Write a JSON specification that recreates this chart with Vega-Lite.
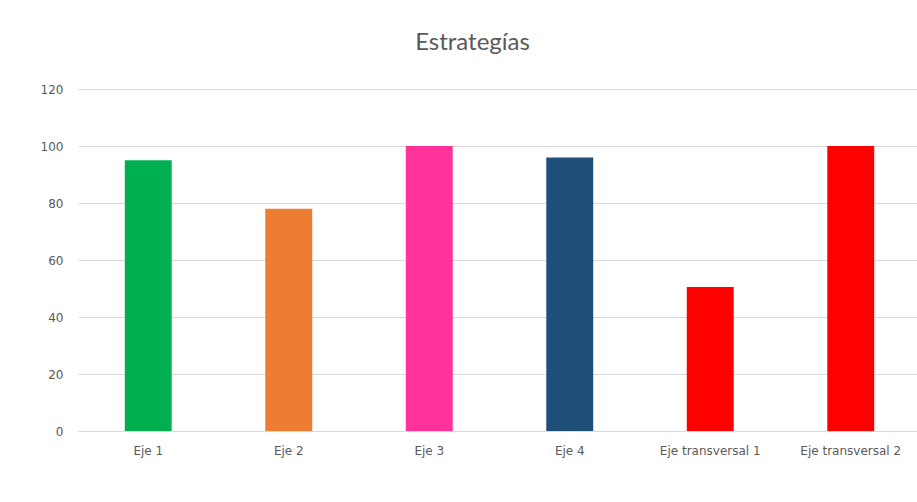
{
  "$schema": "https://vega.github.io/schema/vega-lite/v6.json",
  "autosize": "none",
  "padding": {"left": 78, "top": 89, "right": 0, "bottom": 71},
  "width": 839,
  "height": 342,
  "background": "white",
  "title": {
    "text": "Estrategías",
    "font": "Lato",
    "fontSize": 24,
    "fontWeight": "normal",
    "color": "#595959",
    "anchor": "middle",
    "frame": "group",
    "dx": -25,
    "offset": 28
  },
  "data": {
    "values": [
      {"eje": "Eje 1", "valor": 95, "color": "#00B050"},
      {"eje": "Eje 2", "valor": 78, "color": "#ED7D31"},
      {"eje": "Eje 3", "valor": 100, "color": "#FF3399"},
      {"eje": "Eje 4", "valor": 96, "color": "#1F4E79"},
      {"eje": "Eje transversal 1", "valor": 50.5, "color": "#FF0000"},
      {"eje": "Eje transversal 2", "valor": 100, "color": "#FF0000"}
    ]
  },
  "mark": {"type": "bar"},
  "encoding": {
    "x": {
      "field": "eje",
      "type": "nominal",
      "sort": null,
      "scale": {"range": [0, 843], "paddingInner": 0.666, "paddingOuter": 0.333},
      "axis": {
        "title": null,
        "labelAngle": 0,
        "labelFont": "DejaVu Sans",
        "labelFontSize": 12,
        "labelColor": "#595959",
        "labelPadding": 14,
        "domain": false,
        "ticks": false,
        "grid": false
      }
    },
    "y": {
      "field": "valor",
      "type": "quantitative",
      "scale": {"domain": [0, 120]},
      "axis": {
        "title": null,
        "values": [0, 20, 40, 60, 80, 100, 120],
        "labelFont": "DejaVu Sans",
        "labelFontSize": 12,
        "labelColor": "#595959",
        "labelPadding": 15,
        "domain": false,
        "ticks": false,
        "grid": true,
        "gridColor": "#d9d9d9",
        "gridWidth": 1
      }
    },
    "color": {"field": "color", "type": "nominal", "scale": null, "legend": null}
  },
  "config": {"view": {"stroke": null}}
}
